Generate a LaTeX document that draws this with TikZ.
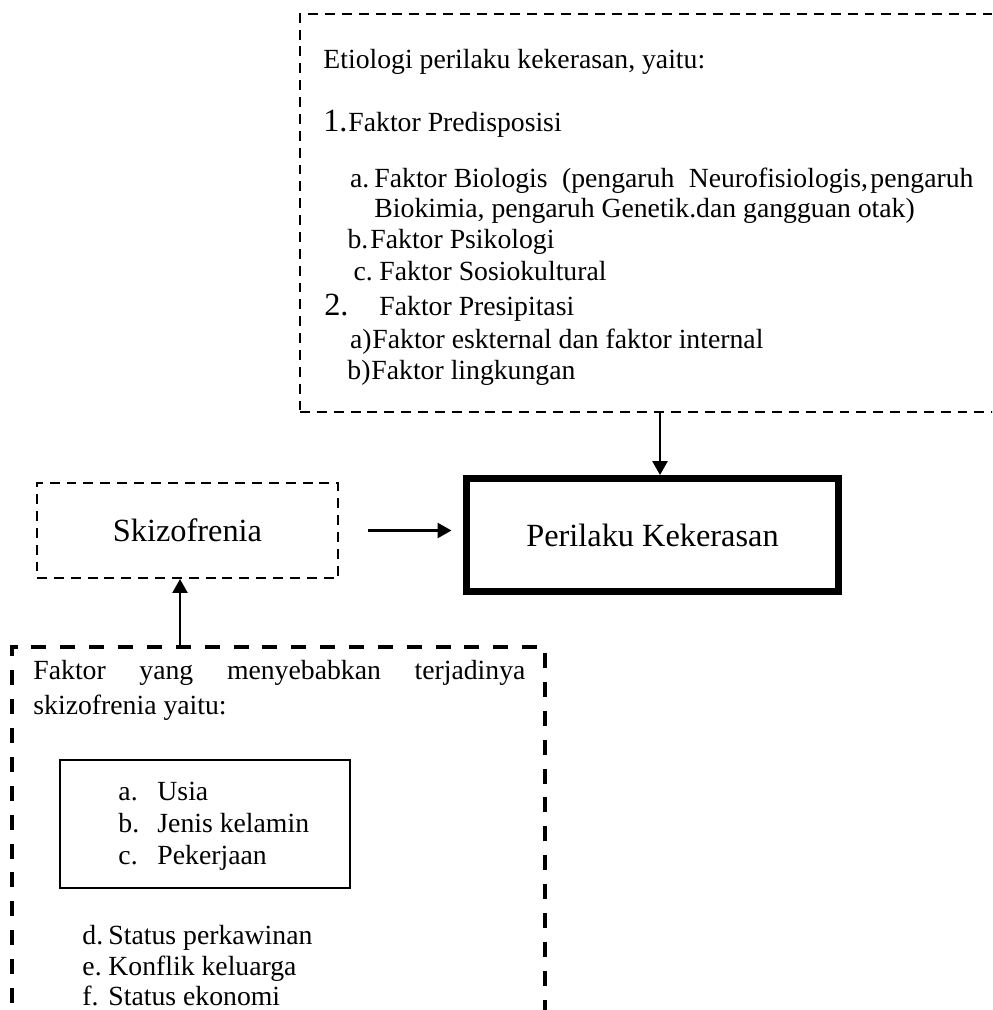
\documentclass[tikz,border=0pt]{standalone}
\usepackage{fontspec}
\setmainfont{Liberation Serif}
\usetikzlibrary{fit,arrows.meta}
\begin{document}
\begin{tikzpicture}[x=0.4330pt,y=-0.4330pt,
  txt/.style={inner sep=0pt, anchor=base west, font=\fontsize{12}{14}\selectfont},
  lab/.style={inner sep=0pt, anchor=base east, font=\fontsize{12}{14}\selectfont},
  num/.style={inner sep=0pt, anchor=base east, font=\fontsize{14}{17}\selectfont},
  thindash/.style={draw, dash pattern=on 4.3pt off 3pt, line width=0.9pt, inner sep=0pt},
  thickdash/.style={draw, dash pattern=on 6.5pt off 6pt, line width=1.6pt, inner sep=0pt},
  heavybox/.style={draw, line width=3pt, inner sep=0pt},
  plainbox/.style={draw, line width=0.9pt, inner sep=0pt},
  arr/.style={line width=0.9pt, -{Triangle[width=6.5pt,length=6pt]}}
]
\useasboundingbox (0,0) rectangle (992,1010);
\clip (0,0) rectangle (992,1010);

% boxes
\node[thindash, fit={(300,14)(1012,412)}] (etio) {};
\node[thindash, fit={(37,483)(338,578)}] (sk) {};
\node[heavybox, fit={(466.5,478.5)(838.5,591.5)}] (pk) {};
\node[thickdash, fit={(12,647)(545,1030)}] (fak) {};
\node[plainbox, fit={(60,760)(350,888)}] (inner) {};

\node[inner sep=0pt, font=\fontsize{14}{17}\selectfont] (sktxt) at (sk.center) {Skizofrenia};
\node[inner sep=0pt, font=\fontsize{14}{17}\selectfont] (pktxt) at (pk.center) {Perilaku Kekerasan};

% top box text
\node[txt] (t0) at (323,69) {Etiologi perilaku kekerasan, yaitu:};
\node[txt] (t1) at (348,132) {Faktor Predisposisi};
\node[num] (n1) at (t1.base west) {1.};
\node[txt] (ta) at (374,188) {\makebox[259.4pt][l]{Faktor Biologis\hfill(pengaruh\hfill Neurofisiologis,\kern1pt pengaruh}};
\node[lab] (la) at ([xshift=-1.8pt]ta.base west) {a.};
\node[txt] (ta2) at (374,218) {Biokimia, pengaruh Genetik.dan gangguan otak)};
\node[txt] (tb) at (370,249) {Faktor Psikologi};
\node[lab] (lb) at ([xshift=-0.5pt]tb.base west) {b.};
\node[txt] (tc) at (379,281) {Faktor Sosiokultural};
\node[lab] (lc) at ([xshift=-2.5pt]tc.base west) {c.};
\node[txt] (t2) at (379,316) {Faktor Presipitasi};
\node[num] (n2) at ([xshift=-13pt]t2.base west) {2.};
\node[txt] (tpa) at (372,349) {Faktor eskternal dan faktor internal};
\node[lab] (lpa) at (tpa.base west) {a)};
\node[txt] (tpb) at (371,380) {Faktor lingkungan};
\node[lab] (lpb) at (tpb.base west) {b)};

% bottom box text
\node[txt] (f0) at (33,679) {\makebox[213pt][s]{Faktor yang menyebabkan terjadinya}};
\node[txt] (f1) at (33,714) {skizofrenia yaitu:};
\node[txt] (ia) at (118,800) {a.};
\node[txt] (ta3) at (157,800) {Usia};
\node[txt] (ib) at (118,832) {b.};
\node[txt] (tb3) at (157,832) {Jenis kelamin};
\node[txt] (ic) at (118,864) {c.};
\node[txt] (tc3) at (157,864) {Pekerjaan};
\node[txt] (id) at (82,944) {d.};
\node[txt] (td) at (108,944) {Status perkawinan};
\node[txt] (ie) at (82,975) {e.};
\node[txt] (te) at (108,975) {Konflik keluarga};
\node[txt] (if) at (82,1005) {f.};
\node[txt] (tf) at (108,1005) {Status ekonomi};

% connectors
\coordinate (x1) at (660,0);
\coordinate (x2) at (180,0);
\draw[arr] (etio.south -| x1) -- (pk.north -| x1);
\draw[arr] (fak.north -| x2) -- (sk.south -| x2);
\draw[arr, shorten <=12.6pt, shorten >=5pt] (sk.east) -- (sk.east -| pk.west);
\end{tikzpicture}
\end{document}
